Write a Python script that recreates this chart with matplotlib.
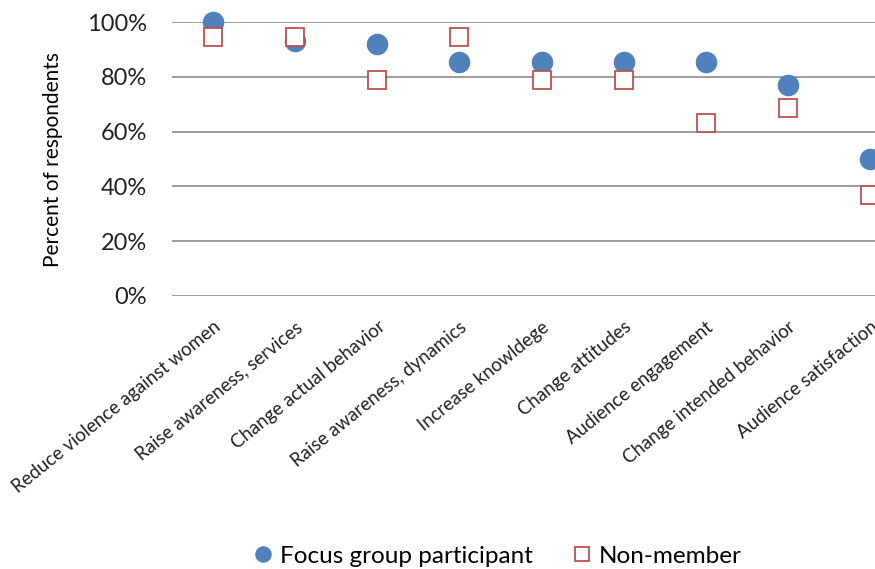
import matplotlib.pyplot as plt
from matplotlib.ticker import PercentFormatter

categories = ["Reduce violence against women", "Raise awareness, services",
              "Change actual behavior", "Raise awareness, dynamics",
              "Increase knowldege", "Change attitudes", "Audience engagement",
              "Change intended behavior", "Audience satisfaction"]
focus_group = [100, 93, 92, 85.5, 85.5, 85.5, 85.5, 77, 50]
non_member = [94.5, 94.5, 79, 94.5, 79, 79, 63, 68.5, 37]

plt.rcParams['font.family'] = ['Lato', 'DejaVu Sans']

fig = plt.figure(figsize=(8.75, 5.69), dpi=100)
ax = fig.add_axes([0.1966, 0.4798, 0.8446, 0.4815])

x = list(range(len(categories)))
ax.plot(x, focus_group, linestyle='none', marker='o', markersize=14.5,
        color='#4f81bd', markeredgecolor='#4f81bd', label='Focus group participant',
        zorder=3, clip_on=False)
ax.plot(x, non_member, linestyle='none', marker='s', markersize=13,
        markerfacecolor='white', markeredgecolor='#c0504d', markeredgewidth=1.3,
        label='Non-member', zorder=3, clip_on=False)

ax.set_xlim(-0.5, len(categories) - 0.5)
ax.set_ylim(0, 100)
ax.set_yticks([0, 20, 40, 60, 80, 100])
ax.yaxis.set_major_formatter(PercentFormatter(decimals=0))
ax.grid(axis='y', color='#8c8c8c', linewidth=1.2)
ax.set_axisbelow(True)
for s in ax.spines.values():
    s.set_visible(False)
ax.tick_params(axis='both', length=0, colors='#222222')
ax.tick_params(axis='y', labelsize=17, pad=18)
ax.set_xticks(x)
ax.set_xticklabels(categories, rotation=39, ha='right', va='top',
                   rotation_mode='anchor', fontsize=13.4)
ax.tick_params(axis='x', pad=16)
ax.set_ylabel('Percent of respondents', fontsize=15, labelpad=17)

fig.legend(loc='center', bbox_to_anchor=(0.567, 0.022), ncol=2, frameon=False,
           fontsize=17.5, handletextpad=0.2, columnspacing=1.5, markerscale=0.75,
           handlelength=1.0)

fig.savefig('out.png', dpi=100)
